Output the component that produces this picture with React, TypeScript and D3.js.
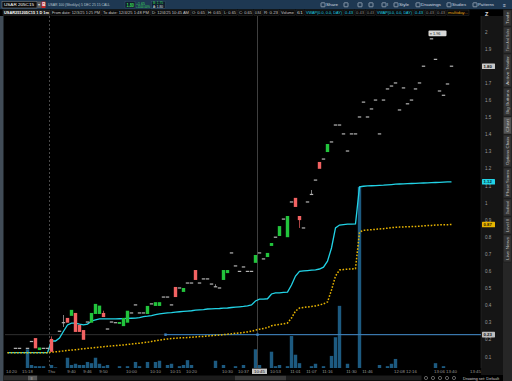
import React from "react";
import * as d3 from "d3";

type Candle = [number, number, number, number] | null; // open, high, low, close
const D = (p: number): Candle => [p, p, p, p];

const candles: Candle[] = [
  null, null, D(0.15), D(0.15), null, D(0.15), D(0.19), [0.21, 0.21, 0.15, 0.15], [0.14, 0.155, 0.14, 0.155], D(0.15),
  D(0.15), [0.205, 0.22, 0.13, 0.13], null, D(0.25), [0.3, 0.345, 0.275, 0.3], [0.328, 0.328, 0.3, 0.3], [0.34, 0.375, 0.34, 0.375], [0.357, 0.357, 0.246, 0.246], [0.287, 0.287, 0.246, 0.246], [0.257, 0.257, 0.2, 0.2],
  D(0.304), [0.3, 0.357, 0.3, 0.357], [0.351, 0.41, 0.351, 0.41], [0.351, 0.4, 0.351, 0.4], [0.357, 0.37, 0.333, 0.333], D(0.263), D(0.304), D(0.3), [0.293, 0.304, 0.293, 0.304], [0.28, 0.328, 0.28, 0.328],
  [0.3, 0.37, 0.3, 0.37], D(0.357), D(0.404), D(0.357), D(0.357), [0.351, 0.398, 0.351, 0.398], D(0.41), [0.398, 0.42, 0.398, 0.42], [0.398, 0.42, 0.398, 0.42], D(0.45),
  D(0.45), D(0.404), [0.509, 0.509, 0.45, 0.45], D(0.503), [0.48, 0.503, 0.48, 0.503], D(0.532), D(0.532), [0.608, 0.608, 0.55, 0.55], D(0.532), D(0.556),
  D(0.556), D(0.526), [0.51, 0.525, 0.51, 0.51], D(0.503), [0.55, 0.608, 0.55, 0.608], [0.59, 0.608, 0.59, 0.608], D(0.708), D(0.632), D(0.6), D(0.626),
  D(0.6), D(0.6), [0.65, 0.696, 0.65, 0.696], D(0.708), D(0.673), [0.684, 0.708, 0.684, 0.708], [0.749, 0.766, 0.749, 0.766], D(0.8), [0.807, 0.865, 0.807, 0.865], D(0.906),
  [0.8, 0.924, 0.8, 0.924], D(1.006), [1.03, 1.03, 0.977, 0.977], [0.924, 0.924, 0.854, 0.9], D(0.854), D(1.006), [1.05, 1.076, 1.05, 1.05], D(1.134), [1.24, 1.24, 1.2, 1.2], D(1.257),
  [1.298, 1.345, 1.298, 1.345], D(1.357), D(1.456), D(1.456), D(1.404), D(1.304), D(1.404), D(1.404), D(1.503), D(1.59),
  D(1.503), D(1.55), D(1.602), D(1.404), D(1.602), D(1.667), D(1.684), D(1.702), D(1.544), D(1.673),
  D(1.58), D(1.602), D(1.667), D(1.702), D(1.8), null, D(1.96), D(1.84), D(1.655), D(1.63),
  D(1.696), D(1.8),
];

const volumes: number[] = [
  0, 0, 0, 0, 0, 31, 5, 3, 3, 3,
  0, 5, 1, 0, 0, 17, 5, 7, 5, 5,
  10, 8, 17, 7, 3, 5, 0, 0, 3, 0,
  3, 0, 10, 3, 0, 10, 0, 10, 12, 0,
  5, 7, 0, 3, 5, 13, 5, 0, 0, 0,
  0, 0, 12, 0, 5, 0, 0, 3, 0, 5,
  0, 0, 31, 5, 0, 0, 27, 3, 5, 0,
  3, 53, 22, 8, 0, 0, 3, 7, 0, 3,
  0, 20, 51, 103, 0, 7, 0, 0, 300, 0,
  0, 0, 0, 5, 0, 3, 7, 15, 0, 0,
  0, 0, 0, 0, 0, 0, 0, 8, 0, 3,
  0, 0,
];

const vwapValues: number[] = [
  0.125, 0.125, 0.125, 0.125, 0.125, 0.125, 0.125, 0.125, 0.125, 0.125,
  0.125, 0.193, 0.193, 0.21, 0.25, 0.287, 0.298, 0.298, 0.292, 0.287,
  0.292, 0.31, 0.316, 0.322, 0.322, 0.322, 0.322, 0.322, 0.323, 0.324,
  0.325, 0.326, 0.327, 0.33, 0.335, 0.338, 0.342, 0.347, 0.352, 0.355,
  0.357, 0.359, 0.362, 0.364, 0.366, 0.368, 0.37, 0.373, 0.375, 0.377,
  0.38, 0.381, 0.382, 0.383, 0.385, 0.386, 0.389, 0.391, 0.393, 0.395,
  0.398, 0.404, 0.427, 0.438, 0.438, 0.44, 0.468, 0.474, 0.475, 0.477,
  0.479, 0.52, 0.573, 0.6, 0.603, 0.605, 0.607, 0.609, 0.614, 0.625,
  0.66, 0.737, 0.854, 0.871, 0.874, 0.876, 0.877, 0.878, 1.094, 1.098,
  1.1, 1.101, 1.102, 1.103, 1.104, 1.106, 1.108, 1.11, 1.111, 1.112,
  1.113, 1.114, 1.115, 1.116, 1.117, 1.118, 1.119, 1.12, 1.121, 1.122,
  1.123, 1.124,
];

const avgValues: number[] = [
  0.125, 0.125, 0.125, 0.125, 0.125, 0.125, 0.125, 0.125, 0.125, 0.125,
  0.125, 0.128, 0.13, 0.132, 0.135, 0.138, 0.14, 0.142, 0.145, 0.148,
  0.15, 0.152, 0.155, 0.157, 0.16, 0.162, 0.164, 0.166, 0.168, 0.17,
  0.173, 0.175, 0.178, 0.18, 0.183, 0.186, 0.19, 0.194, 0.198, 0.202,
  0.205, 0.207, 0.209, 0.211, 0.212, 0.213, 0.215, 0.217, 0.219, 0.22,
  0.222, 0.224, 0.226, 0.228, 0.23, 0.233, 0.235, 0.238, 0.24, 0.243,
  0.246, 0.25, 0.257, 0.262, 0.266, 0.272, 0.282, 0.287, 0.29, 0.293,
  0.298, 0.327, 0.368, 0.386, 0.389, 0.392, 0.395, 0.398, 0.404, 0.41,
  0.421, 0.491, 0.573, 0.608, 0.611, 0.613, 0.614, 0.616, 0.83, 0.84,
  0.842, 0.844, 0.846, 0.848, 0.85, 0.853, 0.856, 0.858, 0.859, 0.86,
  0.861, 0.862, 0.863, 0.864, 0.866, 0.868, 0.869, 0.871, 0.872, 0.873,
  0.873, 0.874,
];

const priceTicks = [2, 1.9, 1.8, 1.7, 1.6, 1.5, 1.4, 1.3, 1.2, 1.1, 1, 0.9, 0.8, 0.7, 0.6, 0.5, 0.4, 0.3, 0.2, 0.1];
const timeTickIdx = [1, 5, 11, 16, 20, 24, 31, 37, 42, 46, 55, 59, 67, 72, 76, 80, 86, 90, 98, 101, 108, 111, 117];
const timeTickLabels = ["14:20", "15:18", "Thu", "9:40", "9:46", "9:50", "10:00", "10:10", "10:15", "10:20", "10:30", "10:37", "10:53", "11:01", "11:07", "11:16", "11:30", "11:46", "12:08", "12:16", "13:06", "13:40", "13:45"];
const dayBreakIdx = 11;
const crossIdx = 63;
const crossTime = "10:45";
const levelPrice = 0.23;
const levelStartIdx = 40;
const highIdx = 106;

const infoLabels = ["USAR251205C15 1 D 1m", "From date: 12/3/25 1:25 PM", "To date: 12/4/25 1:48 PM", "D: 12/4/25 10:45 AM", "O: 0.65", "H: 0.65", "L: 0.65", "C: 0.65", "0.84", "R: 0.23", "Volume", "61", "VWAP(0.0, 0.0, DAY)", "0.43", "0.43", "0.43", "VWAP(0.0, 0.0, DAY)", "0.43", "0.43", "0.43", "multiday..."];
const infoX = [3, 51, 102, 151, 191, 207, 223, 238, 254, 263, 280, 296, 305, 344, 355, 366, 376, 414, 425, 436, 447];
const infoW = [47, 50, 48, 39, 15, 15, 14, 15, 8, 16, 15, 8, 38, 10, 10, 9, 37, 10, 10, 10, 22];
const infoColor = ["#ffffff", "#c8c8c8", "#c8c8c8", "#c8c8c8", "#c8c8c8", "#c8c8c8", "#c8c8c8", "#c8c8c8", "#c8c8c8", "#c8c8c8", "#c8c8c8", "#c8c8c8", "#22d3e6", "#22d3e6", "#8a8a8a", "#8a8a8a", "#22d3e6", "#22d3e6", "#8a8a8a", "#8a8a8a", "#e0a010"];

const toolLabels = ["Share", "", "", "", "I", "Style", "Drawings", "Studies", "Patterns"];
const toolX = [321, 344, 358, 369, 382, 394, 416, 447, 473];
const toolW = [17, 0, 0, 0, 5, 15, 25, 19, 21];

const tabLabels = ["Trade", "Time And Sales", "Active Trader", "Big Buttons", "Chart", "Options Chain", "Phase Scores", "Dashboard", "Level II", "Live News"];
const tabY0 = [10, 27, 54, 88, 117, 135, 168, 199, 217, 235];
const tabY1 = [26, 53, 87, 116, 134, 167, 198, 216, 234, 262];

const FONT = "'Liberation Sans', Arial, sans-serif";

export default function App() {
  const W = 512, H = 381;
  const L = 5, R = 481, T = 16, B = 368;
  const slots = d3.range(119);
  const x = d3.scaleBand<number>().domain(slots).range([5.5, 481.5]);
  const bw = x.bandwidth();
  const cx = (i: number) => (x(i) as number) + bw / 2;
  const y = d3.scaleLinear().domain([0, 2]).range([374, 32]);
  const vy = d3.scaleLinear().domain([0, 300]).range([B, 187]);
  const line = d3.line<number>().x((_, i) => cx(i)).y((d) => y(d));
  const f2 = d3.format(".2f");
  const fTick = (v: number) => String(+v.toFixed(1));

  const green = "#22c43c", red = "#f26262", doji = "#b4b4b4";
  const lastClose = (candles[candles.length - 1] as number[])[3];
  const lastVwap = vwapValues[vwapValues.length - 1];
  const lastAvg = avgValues[avgValues.length - 1];
  const crossX = x(crossIdx) as number;
  const highC = candles[highIdx] as number[];

  const axisBubble = (v: number, fill: string, color: string, key: string) => (
    <g key={key}>
      <rect x={482} y={y(v) - 2.8} width={13} height={5.6} fill={fill} rx={0.6} />
      <text x={483.5} y={y(v) + 1.6} fontSize={4.3} fill={color} fontFamily={FONT} fontWeight="bold">{f2(v)}</text>
    </g>
  );

  return (
    <svg width={W} height={H} style={{ position: "fixed", left: 0, top: 0, background: "#000" }} fontFamily={FONT}>
      <defs>
        <clipPath id="plot"><rect x={L} y={T} width={R - L} height={B - T} /></clipPath>
      </defs>
      <rect x={0} y={0} width={W} height={H} fill="#000" />

      {/* top toolbar */}
      <rect x={0} y={0} width={W} height={9.5} fill="#1e3852" />
      <rect x={2} y={1.5} width={35} height={6.5} fill="#0c0c0c" stroke="#8a8a8a" strokeWidth={0.5} />
      <text x={4} y={6.3} fontSize={4.2} fill="#fff" textLength={30} lengthAdjust="spacingAndGlyphs">USAR 205C15</text>
      <rect x={37.5} y={1.5} width={4} height={6.5} fill="#5a5a5a" />
      <text x={38.3} y={6.2} fontSize={4} fill="#ddd">▾</text>
      <rect x={41.5} y={1.5} width={4} height={6.5} fill="#c62828" />
      <text x={42.2} y={6.4} fontSize={4.5} fill="#fff" fontWeight="bold">B</text>
      <text x={48} y={6} fontSize={3.8} fill="#b8c4d0" textLength={62} lengthAdjust="spacingAndGlyphs">USAR 100 (Weeklys) 5 DEC 25 15 CALL</text>
      <rect x={125} y={1.5} width={10} height={6.5} fill="#0f1e2c" stroke="#3c5a78" strokeWidth={0.4} />
      <text x={126.5} y={6.6} fontSize={4.8} fill="#3ddc5a" fontWeight="bold" textLength={7.5} lengthAdjust="spacingAndGlyphs">1.80</text>
      <text x={136} y={4.6} fontSize={3} fill="#3ddc5a" textLength={9} lengthAdjust="spacingAndGlyphs">+1.65</text>
      <text x={136} y={7.9} fontSize={3} fill="#3ddc5a" textLength={14} lengthAdjust="spacingAndGlyphs">+1100.00%</text>
      <rect x={151.5} y={1.2} width={14} height={7} fill="#102030" stroke="#3c5a78" strokeWidth={0.4} />
      <text x={153} y={4.4} fontSize={3} fill="#3ddc5a" textLength={10} lengthAdjust="spacingAndGlyphs">B: 1.75</text>
      <text x={153} y={7.6} fontSize={3} fill="#e0e0e0" textLength={10} lengthAdjust="spacingAndGlyphs">A: 1.80</text>
      {toolLabels.map((t, i) => (
        <g key={"tool" + i}>
          <rect x={toolX[i]} y={2.8} width={4} height={4} fill="none" stroke="#c8d2dc" strokeWidth={0.6} rx={0.5} />
          {t && <text x={toolX[i] + 5} y={6.4} fontSize={4} fill="#d0d8e0" textLength={toolW[i] - 5 > 2 ? toolW[i] - 5 : undefined} lengthAdjust="spacingAndGlyphs">{t}</text>}
        </g>
      ))}
      <text x={503} y={6.5} fontSize={5} fill="#d0d8e0">≡</text>

      {/* info row */}
      <rect x={0} y={9.5} width={W} height={6.5} fill="#000" />
      {infoLabels.map((t, i) => (
        <g key={"info" + i}>
          <rect x={infoX[i]} y={10} width={infoW[i]} height={5.3} fill={i === 0 ? "#1a1a1a" : "#080808"} stroke="#3a3a3a" strokeWidth={0.4} />
          <text x={infoX[i] + 1} y={14} fontSize={3.8} fill={infoColor[i]} fontWeight={i === 0 ? "bold" : "normal"} textLength={infoW[i] - 2} lengthAdjust="spacingAndGlyphs">{t}</text>
        </g>
      ))}

      {/* left strip */}
      <rect x={0} y={16} width={3.5} height={H - 16} fill="#414c57" />

      {/* price axis */}
      <rect x={R} y={16} width={503 - R} height={B + 7 - 16} fill="#151515" />
      <line x1={R} x2={R} y1={16} y2={B} stroke="#2c2c2c" strokeWidth={0.6} />
      <text x={485} y={15.5} fontSize={5.5} fill="#e0e0e0" fontWeight="bold">Z</text>
      {priceTicks.map((v) => (
        <text key={"pt" + v} x={485} y={y(v) + 1.6} fontSize={4.5} fill="#9c9c9c">{fTick(v)}</text>
      ))}

      {/* plot */}
      <g clipPath="url(#plot)">
        {volumes.map((v, i) => v > 0 ? (
          <rect key={"v" + i} x={(x(i) as number) + 0.3} y={vy(v)} width={bw - 0.6} height={B - vy(v)} fill="#1d5a80" />
        ) : null)}
        <line x1={x(dayBreakIdx)} x2={x(dayBreakIdx)} y1={T} y2={B} stroke="#7a7a7a" strokeWidth={0.6} strokeDasharray="2,2" />
        <line x1={crossX} x2={crossX} y1={T} y2={B} stroke="#5a5a5a" strokeWidth={0.7} />
        <line x1={L} x2={R} y1={y(levelPrice)} y2={y(levelPrice)} stroke="#3c3c3c" strokeWidth={0.8} />
        <line x1={x(levelStartIdx)} x2={R} y1={y(levelPrice)} y2={y(levelPrice)} stroke="#3d86c6" strokeWidth={1} />
        <rect x={(x(levelStartIdx) as number) - 1.2} y={y(levelPrice) - 1.2} width={2.4} height={2.4} fill="#3d86c6" />
        <rect x={crossX - 1.2} y={y(levelPrice) - 1.2} width={2.4} height={2.4} fill="#3d86c6" />
        <path d={line(vwapValues) || ""} fill="none" stroke="#22d3e6" strokeWidth={1.3} />
        <path d={line(avgValues) || ""} fill="none" stroke="#e8b400" strokeWidth={1.5} strokeDasharray="1.6,1.6" />
        {candles.map((c, i) => {
          if (!c) return null;
          const [o, h, l, cl] = c;
          const x0 = (x(i) as number) + 0.3;
          const w = bw - 0.6;
          const col = cl > o ? green : cl < o ? red : doji;
          const top = y(Math.max(o, cl));
          const bot = y(Math.min(o, cl));
          return (
            <g key={"c" + i}>
              {(h > Math.max(o, cl) || l < Math.min(o, cl)) && (
                <line x1={cx(i)} x2={cx(i)} y1={y(h)} y2={y(l)} stroke={col} strokeWidth={0.7} />
              )}
              {o === cl ? (
                <rect x={x0} y={y(o) - 0.6} width={w} height={1.2} fill={doji} />
              ) : (
                <rect x={x0} y={top} width={w} height={Math.max(1, bot - top)} fill={col} />
              )}
            </g>
          );
        })}
        <g>
          <rect x={cx(highIdx) - 3} y={y(highC[1]) - 8.3} width={18} height={5.6} rx={1} fill="#d8d8d8" />
          <text x={cx(highIdx) - 1.8} y={y(highC[1]) - 4} fontSize={3.8} fill="#222">≡ {f2(highC[1])}</text>
        </g>
      </g>

      {/* axis bubbles */}
      {axisBubble(lastClose, "#c8c8c8", "#111", "b1")}
      {axisBubble(lastVwap, "#22d3e6", "#002a30", "b2")}
      {axisBubble(lastAvg, "#e8b400", "#2a2000", "b3")}
      {axisBubble(levelPrice, "#bdbdbd", "#111", "b4")}

      {/* time axis */}
      {timeTickIdx.map((idx, k) => (
        <text key={"tt" + k} x={cx(idx)} y={372.6} fontSize={4.3} fill="#9a9a9a" textAnchor="middle">{timeTickLabels[k]}</text>
      ))}
      <rect x={cx(crossIdx) - 7.5} y={368.6} width={15} height={5.4} fill="#c4c4c4" />
      <text x={cx(crossIdx)} y={372.7} fontSize={4.3} fill="#111" textAnchor="middle">{crossTime}</text>

      {/* scrollbar */}
      <rect x={3.5} y={375.5} width={418} height={5} fill="#1b1b1b" />
      <rect x={3.5} y={375.5} width={34} height={5} fill="#2c2c2c" />
      <rect x={28} y={375.8} width={9} height={4.4} fill="#5a5a5a" />
      <text x={30.5} y={379.6} fontSize={4} fill="#ddd">≡</text>
      <rect x={235} y={375.8} width={51} height={4.4} fill="#3a3a3a" />
      {[426, 433, 440, 447, 454].map((px, k) => (
        <circle key={"ic" + k} cx={px} cy={378} r={1.6} fill="none" stroke="#bbb" strokeWidth={0.5} />
      ))}
      <text x={463} y={379.6} fontSize={4} fill="#cfcfcf" textLength={36} lengthAdjust="spacingAndGlyphs">Drawing set: Default</text>

      {/* right tabs */}
      <rect x={503} y={9.5} width={9} height={H - 9.5} fill="#262626" />
      {tabLabels.map((t, i) => {
        const yc = (tabY0[i] + tabY1[i]) / 2;
        const len = tabY1[i] - tabY0[i];
        return (
          <g key={"tab" + i}>
            <rect x={503.3} y={tabY0[i]} width={8.4} height={len} fill={t === "Chart" ? "#555" : "#333"} stroke="#1a1a1a" strokeWidth={0.5} />
            <text transform={`translate(509,${yc}) rotate(-90)`} fontSize={4} fill="#c0c0c0" textAnchor="middle" textLength={len - 4} lengthAdjust="spacingAndGlyphs">{t}</text>
          </g>
        );
      })}
    </svg>
  );
}
